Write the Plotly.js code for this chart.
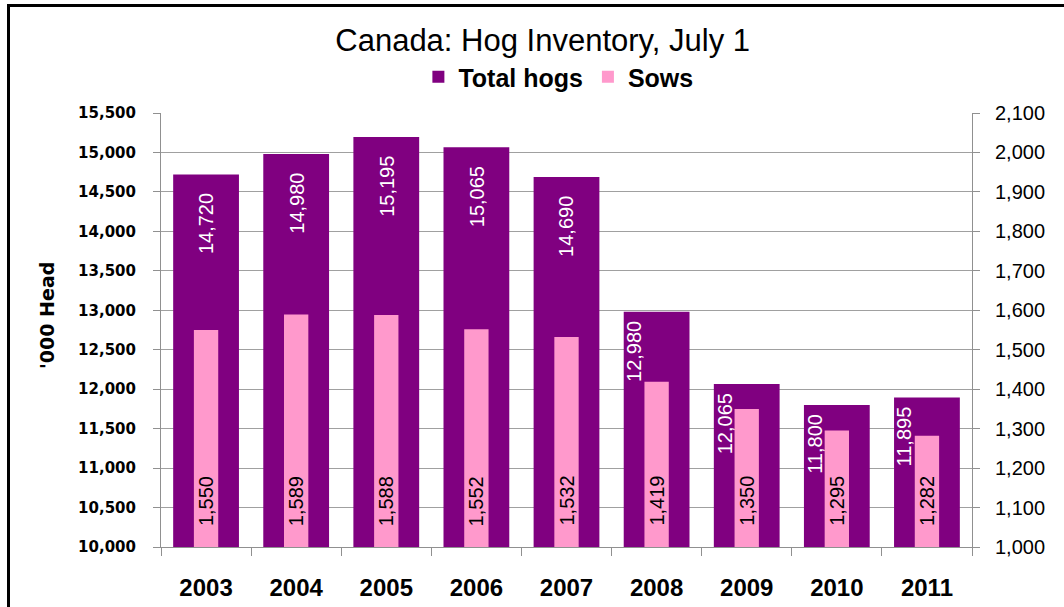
<!DOCTYPE html>
<html>
<head>
<meta charset="utf-8">
<script src="https://cdn.plot.ly/plotly-3.0.1.min.js"></script>
<style>
html,body{margin:0;padding:0;overflow:hidden;background:#fff;}
#chart{position:absolute;left:0;top:0;width:1064px;height:607px;}
#frame{position:absolute;left:7px;top:4px;width:1200px;height:800px;border:3px solid #000;pointer-events:none;}
</style>
</head>
<body>
<div id="chart"></div>
<div id="frame"></div>
<script>
const years = ['2003','2004','2005','2006','2007','2008','2009','2010','2011'];
const totalHogs = [14720,14980,15195,15065,14690,12980,12065,11800,11895];
const sows = [1550,1589,1588,1552,1532,1419,1350,1295,1282];
const leftRange = [10000,15500];
const rightRange = [1000,2100];
const chartTitle = 'Canada: Hog Inventory, July 1';
const yTitle = "'000 Head";

const W = 1064, H = 607;
const M = {l:161, r:92, t:113, b:60};
const plotW = W - M.l - M.r;
const plotH = H - M.t - M.b;
const pxL = plotH/(leftRange[1]-leftRange[0]);
const pxR = plotH/(rightRange[1]-rightRange[0]);

const fmt = v => v.toLocaleString('en-US');
const arial = 'Liberation Sans, Arial, sans-serif';
const dejavu = 'DejaVu Sans, sans-serif';

const annotations = [];
years.forEach((yr,i)=>{
  const gap = (totalHogs[i]-leftRange[0])*pxL - (sows[i]-rightRange[0])*pxR;
  const crowded = gap < 100;
  annotations.push({
    x: i, y: totalHogs[i], xref:'x', yref:'y',
    text: fmt(totalHogs[i]), showarrow:false, textangle:-90,
    xanchor:'center', yanchor:'top',
    xshift: crowded ? -22 : 0, yshift: crowded ? -7 : -17,
    font:{family:arial, size:20, color:'#ffffff'}
  });
  annotations.push({
    x: i, y: rightRange[0], xref:'x', yref:'y2',
    text: fmt(sows[i]), showarrow:false, textangle:-90,
    xanchor:'center', yanchor:'bottom', yshift:19,
    font:{family:arial, size:20, color:'#000000'}
  });
});
// y-axis title
annotations.push({
  text: yTitle, showarrow:false, textangle:-90,
  xref:'paper', yref:'paper', x:(47-M.l)/plotW, y:(H-M.b-316)/plotH,
  xanchor:'center', yanchor:'middle',
  font:{family:dejavu, size:19, color:'#000', weight:700}
});

const traces = [
  {type:'bar', name:'Total hogs', x:years, y:totalHogs, yaxis:'y', width:0.73,
   marker:{color:'#800080'}, hoverinfo:'skip'},
  {type:'bar', name:'Sows', x:years, y:sows, yaxis:'y2', width:0.27,
   marker:{color:'#ff99cc'}, hoverinfo:'skip'}
];

const layout = {
  width:W, height:H,
  margin:M,
  paper_bgcolor:'#ffffff', plot_bgcolor:'#ffffff',
  showlegend:true,
  barmode:'overlay',
  title:{text:chartTitle, x:0.51, xref:'container', xanchor:'center',
         y:1-40/H, yref:'container', yanchor:'middle',
         font:{family:arial, size:31, color:'#000'}},
  legend:{orientation:'h', x:0.49, xanchor:'center', y:(H-M.b-77)/plotH, yanchor:'middle',
          font:{family:arial, size:25, color:'#000', weight:700}, traceorder:'normal',
          itemwidth:30, bgcolor:'rgba(0,0,0,0)'},
  xaxis:{type:'category', categoryorder:'array', categoryarray:years, range:[-0.5, years.length-0.5],
         autorange:false, showline:true, linecolor:'#909090', linewidth:1,
         ticks:'outside', tickson:'boundaries', ticklen:8, tickcolor:'#909090',
         showgrid:false, ticklabelstandoff:19, tickangle:0,
         tickfont:{family:arial, size:24, color:'#000', weight:700}},
  yaxis:{range:leftRange, autorange:false, dtick:500, tick0:10000, tickformat:',d',
         showline:true, linecolor:'#909090', linewidth:1, ticks:'outside', ticklen:7, tickcolor:'#909090',
         showgrid:true, gridcolor:'#a0a0a0', gridwidth:1, zeroline:false,
         ticklabelstandoff:14,
         tickfont:{family:dejavu, size:15, color:'#000', weight:700}},
  yaxis2:{range:rightRange, autorange:false, dtick:100, tick0:1000, tickformat:',d', overlaying:'y', side:'right',
          showline:true, linecolor:'#909090', linewidth:1, ticks:'outside', ticklen:7, tickcolor:'#909090',
          showgrid:false, zeroline:false, ticklabelstandoff:11,
          tickfont:{family:arial, size:20, color:'#000'}},
  annotations:annotations
};

Plotly.newPlot('chart', traces, layout, {displayModeBar:false, staticPlot:true});
</script>
</body>
</html>
